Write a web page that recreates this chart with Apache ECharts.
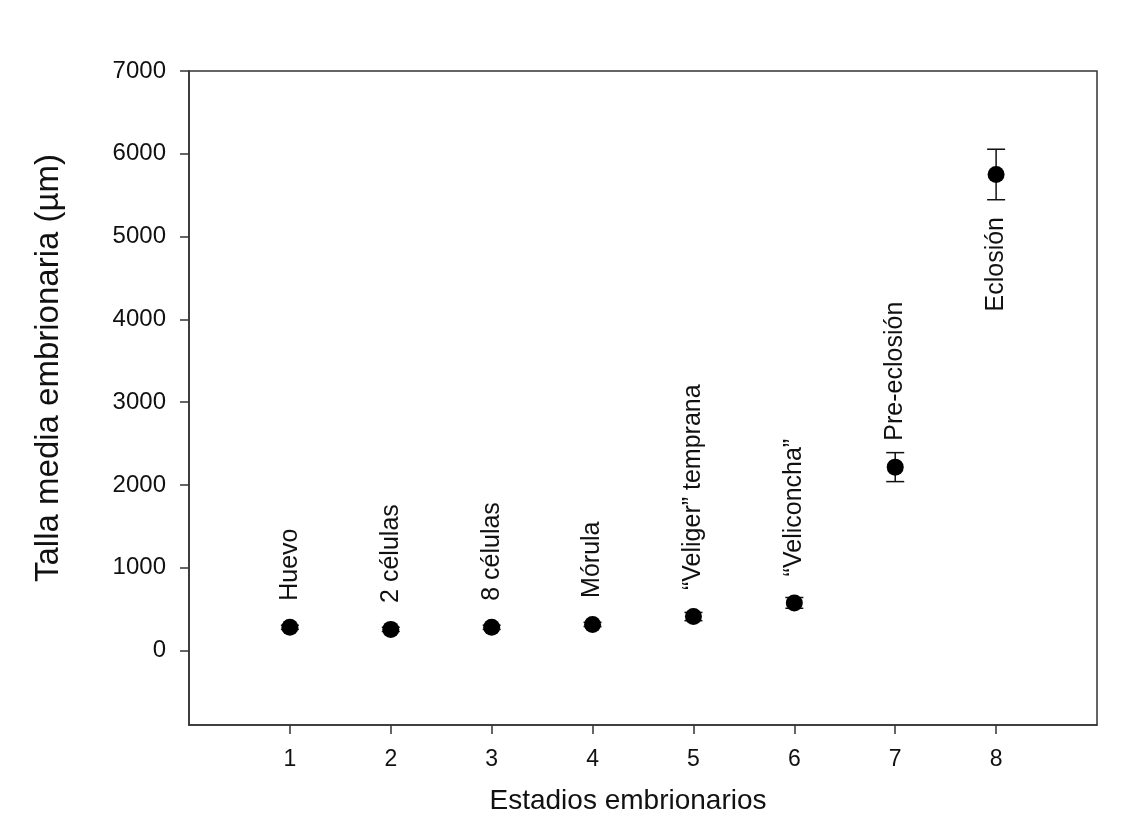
<!DOCTYPE html>
<html>
<head>
<meta charset="utf-8">
<script src="https://cdn.jsdelivr.net/npm/echarts@6/dist/echarts.min.js"></script>
<style>html,body{margin:0;padding:0;background:#fff}#c{width:1140px;height:833px}</style>
</head>
<body>
<div id="c"></div>
<script>
const stages = [1, 2, 3, 4, 5, 6, 7, 8];
const stageNames = ['Huevo', '2 células', '8 células', 'Mórula', '“Veliger” temprana', '“Veliconcha”', 'Pre-eclosión', 'Eclosión'];
const meanSize = [280, 255, 280, 315, 410, 575, 2215, 5750];
const errSize = [25, 25, 25, 25, 50, 65, 175, 305];
const yTicks = [0, 1000, 2000, 3000, 4000, 5000, 6000, 7000];
const xTicks = [1, 2, 3, 4, 5, 6, 7, 8];

const FONT = '"Liberation Sans", Arial, Helvetica, sans-serif';
const INK = '#111';

const chart = echarts.init(document.getElementById('c'));

const scatterData = stages.map((s, i) => {
  const item = { value: [s, meanSize[i]], name: stageNames[i] };
  if (i === stages.length - 1) {
    item.label = { position: 'bottom', distance: 34, align: 'right' };
  }
  return item;
});

chart.setOption({
  backgroundColor: '#ffffff',
  animation: false,
  grid: { left: 189, right: 43, top: 71, bottom: 108, show: true, borderColor: '#333', borderWidth: 1.5, backgroundColor: 'transparent' },
  xAxis: {
    type: 'value', min: 0, max: 9,
    name: 'Estadios embrionarios', nameLocation: 'middle', nameGap: 62,
    nameTextStyle: { fontFamily: FONT, fontSize: 28, color: INK, padding: [0, 30, 0, 0] },
    axisLine: { show: true, onZero: false, lineStyle: { color: '#333', width: 1.5 } },
    axisTick: { show: true, inside: false, length: 9, customValues: xTicks, lineStyle: { color: '#333', width: 1.5 } },
    axisLabel: { customValues: xTicks, margin: 23, fontFamily: FONT, fontSize: 23, color: INK },
    splitLine: { show: false }
  },
  yAxis: {
    type: 'value', min: -900, max: 7000,
    name: 'Talla media embrionaria (µm)', nameLocation: 'middle', nameGap: 124,
    nameTextStyle: { fontFamily: FONT, fontSize: 33, color: INK, padding: [0, 0, 0, 60] },
    axisLine: { show: true, onZero: false, lineStyle: { color: '#333', width: 1.5 } },
    axisTick: { show: true, inside: false, length: 9, customValues: yTicks, lineStyle: { color: '#333', width: 1.5 } },
    axisLabel: { customValues: yTicks, margin: 23, fontFamily: FONT, fontSize: 24, color: INK, formatter: function (v) { return String(v); } },
    splitLine: { show: false }
  },
  series: [
    {
      type: 'custom',
      renderItem: function (params, api) {
        const x = api.value(0), m = api.value(1), e = api.value(2);
        const top = api.coord([x, m + e]);
        const bot = api.coord([x, m - e]);
        const hw = 9;
        const st = { stroke: '#111', lineWidth: 1.5, fill: null };
        return {
          type: 'group',
          children: [
            { type: 'line', shape: { x1: top[0], y1: top[1], x2: bot[0], y2: bot[1] }, style: st },
            { type: 'line', shape: { x1: top[0] - hw, y1: top[1], x2: top[0] + hw, y2: top[1] }, style: st },
            { type: 'line', shape: { x1: bot[0] - hw, y1: bot[1], x2: bot[0] + hw, y2: bot[1] }, style: st }
          ]
        };
      },
      data: stages.map((s, i) => [s, meanSize[i], errSize[i]]),
      z: 2
    },
    {
      type: 'scatter',
      symbol: 'circle',
      symbolSize: 17,
      itemStyle: { color: '#000', opacity: 1 },
      data: scatterData,
      z: 3,
      label: {
        show: true,
        formatter: '{b}',
        position: 'top',
        distance: 18,
        rotate: 90,
        align: 'left',
        verticalAlign: 'middle',
        fontFamily: FONT,
        fontSize: 25,
        color: INK
      }
    }
  ]
});
</script>
</body>
</html>
